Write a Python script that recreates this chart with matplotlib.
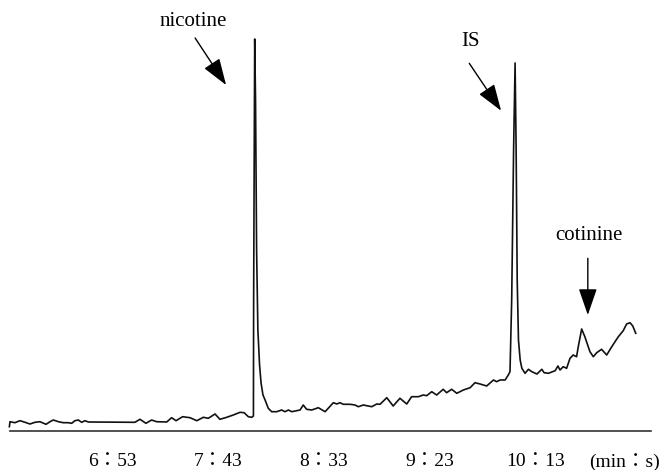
import numpy as np
import matplotlib
matplotlib.use("Agg")
import matplotlib.pyplot as plt

# retention time (s) and detector response (arb. units)
rt = [364.6, 364.9, 367.2, 369.6, 372.0, 374.3, 376.7, 379.0, 381.9, 383.8,
      385.3, 387.7, 390.0, 392.4, 394.0, 395.5, 397.1, 398.7, 400.3, 401.8,
      423.8, 426.2, 429.0, 431.7, 434.0, 438.8, 441.1, 443.2, 446.3, 449.8,
      453.0, 456.1, 458.4, 461.6, 463.9, 467.1, 470.2, 473.4, 475.3, 477.3,
      478.9, 479.7, 479.8, 480.3, 480.7, 481.2, 481.8, 482.6, 483.3, 484.2,
      485.2, 486.7, 488.3, 490.7, 493.0, 494.6, 496.2, 497.8, 500.1, 501.7,
      503.2, 504.8, 507.2, 510.3, 513.5, 515.0, 517.4, 519.0, 520.5, 522.1,
      525.3, 527.6, 529.2, 531.5, 535.5, 537.9, 539.4, 542.6, 545.6, 548.8,
      552.0, 554.3, 557.5, 559.8, 561.4, 563.8, 566.1, 569.2, 570.8, 573.2,
      575.6, 578.7, 581.9, 584.2, 586.6, 589.7, 592.9, 594.4, 596.0, 598.4,
      599.9, 600.7, 601.5, 602.4, 603.1, 603.6, 604.1, 604.7, 605.5, 606.3,
      607.8, 609.4, 611.0, 613.4, 615.7, 616.8, 618.8, 622.0, 623.3, 624.3,
      625.8, 627.4, 629.0, 630.5, 632.1, 632.9, 634.5, 636.0, 638.4, 640.0,
      641.6, 643.9, 646.3, 648.7, 651.8, 654.1, 655.7, 657.3, 658.6, 660.0]
resp = [4.3, 9.3, 8.3, 10.3, 8.7, 7.0, 8.7, 9.3, 6.7, 9.3,
        11.0, 9.3, 8.3, 8.3, 7.7, 10.3, 11.0, 8.7, 10.3, 9.0,
        8.7, 11.7, 7.7, 11.0, 9.3, 9.0, 13.3, 10.3, 14.3, 13.3,
        10.3, 13.7, 12.7, 17.0, 11.7, 13.7, 16.0, 18.7, 18.3, 14.3,
        13.7, 15.0, 131, 392, 331, 181, 101, 66, 48, 36,
        31, 22.7, 19.3, 19.3, 21.0, 19.3, 21.0, 19.3, 20.3, 21.0,
        26.0, 21.7, 21.0, 23.3, 19.3, 22.7, 28.3, 27.0, 28.3, 26.7,
        26.7, 26.0, 24.3, 26.0, 24.3, 27.0, 26.7, 33.3, 25.0, 32.7,
        27.0, 34.3, 34.3, 36.0, 35.3, 39.3, 36.0, 41.7, 38.3, 41.7,
        37.7, 41.0, 43.3, 48.3, 47.0, 45.0, 51.0, 49.3, 51.0, 51.0,
        56.0, 59.3, 131, 281, 368, 281, 151, 91, 71, 62.7,
        57.7, 61.7, 59.3, 57.0, 61.7, 58.3, 57.7, 60.3, 65.0, 61.0,
        64.3, 62.7, 72.7, 76.0, 74.3, 84.3, 102.0, 94.3, 79.3, 74.3,
        78.3, 81.7, 76.0, 84.3, 94.3, 100.3, 107.0, 108.3, 105.0, 97.7]

tick_pos = [413, 463, 513, 563, 613]
tick_lab = ["6：53", "7：43", "8：33", "9：23", "10：13"]
unit_lab = "(min：s)"

peak_names = ["nicotine", "IS", "cotinine"]
label_xy = [(451.2, 409.3), (581.9, 389.3), (637.7, 196.0)]
arrow_from = [(452.2, 393.0), (581.5, 367.7), (637.4, 172.7)]
arrow_to = [(466.8, 346.0), (596.5, 320.3), (637.4, 116.0)]

fonts = ["Liberation Serif", "Noto Sans CJK JP"]

fig = plt.figure(figsize=(6.65, 4.70), dpi=100)
ax = fig.add_axes([10/665, 39/470, 641/665, 431/470])
ax.plot(rt, resp, color="#111111", lw=1.2, clip_on=False)

ax.set_xlim(364.9, 667.2)
ax.set_ylim(0, 431)
for s in ["top", "right", "left"]:
    ax.spines[s].set_visible(False)
ax.spines["bottom"].set_color("#333333")
ax.spines["bottom"].set_linewidth(1.2)
ax.set_yticks([])
ax.set_xticks(tick_pos)
ax.set_xticklabels(tick_lab, family=fonts, fontsize=14)
ax.tick_params(axis="x", length=0, pad=16)

fig.text(624/665, 1 - 461.7/470, unit_lab, family=fonts, fontsize=14,
         ha="center", va="center")

for name, lxy, a0, a1 in zip(peak_names, label_xy, arrow_from, arrow_to):
    ax.text(lxy[0], lxy[1], name, family=fonts, fontsize=15,
            ha="center", va="center")
    ax.annotate("", xy=a1, xytext=a0,
                arrowprops=dict(arrowstyle="-|>,head_length=1.1,head_width=0.38",
                                mutation_scale=15, color="black", lw=1.0,
                                shrinkA=0, shrinkB=0))

fig.savefig("out.png", dpi=100)
